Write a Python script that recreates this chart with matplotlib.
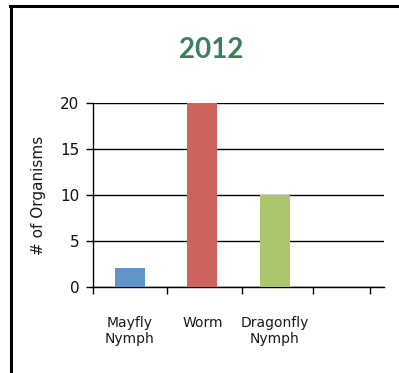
import matplotlib.pyplot as plt
from matplotlib.lines import Line2D

# data
categories = ["Mayfly\nNymph", "Worm", "Dragonfly\nNymph", ""]
counts = [2, 20, 10, 0]
colors = ["#6194c7", "#cc645d", "#abc66c", "#ffffff"]
yticks = [0, 5, 10, 15, 20]

plt.rcParams['font.family'] = ['Lato', 'DejaVu Sans']

fig = plt.figure(figsize=(3.99, 3.73), dpi=100)
ax = fig.add_axes([0.234, 0.231, 0.728, 0.492])

x = list(range(len(categories)))
ax.bar(x[:3], counts[:3], width=0.41, color=colors[:3], zorder=3)

ax.set_xlim(-0.5, 3.5)
ax.set_ylim(0, 20)
ax.set_yticks(yticks)
ax.yaxis.grid(True, color='black', linewidth=1.0, zorder=1)
ax.set_axisbelow(True)

ax.set_xticks(x[:3])
ax.set_xticklabels(categories[:3], fontsize=10, color='#1a1a1a', linespacing=1.15,
                   family='DejaVu Sans')
ax.tick_params(axis='x', which='major', length=0, pad=21)
ax.set_xticks([-0.5, 0.52, 1.54, 2.52, 3.31], minor=True)
ax.tick_params(axis='x', which='minor', length=5, width=1, color='black')
ax.tick_params(axis='y', length=5, width=1, color='black', labelsize=11,
               labelcolor='#111111', pad=5)
for lbl in ax.get_yticklabels():
    lbl.set_family('DejaVu Sans')

for s in ['top', 'right']:
    ax.spines[s].set_visible(False)
for s in ['left', 'bottom']:
    ax.spines[s].set_color('black')
    ax.spines[s].set_linewidth(1.0)

ax.set_ylabel("# of Organisms", fontsize=11, color='#1a1a1a', labelpad=10,
              family='DejaVu Sans')

fig.text(0.529, 0.866, "2012", ha='center', va='center', fontsize=20,
         fontweight='bold', color='#3d7f5a')

# frame around the chart
fig.add_artist(Line2D([0.028, 0.028], [0.0, 0.984], color='black', linewidth=2.2,
                      transform=fig.transFigure))
fig.add_artist(Line2D([0.026, 1.0], [0.984, 0.984], color='black', linewidth=2.2,
                      transform=fig.transFigure))

fig.savefig("out.png", dpi=100)
